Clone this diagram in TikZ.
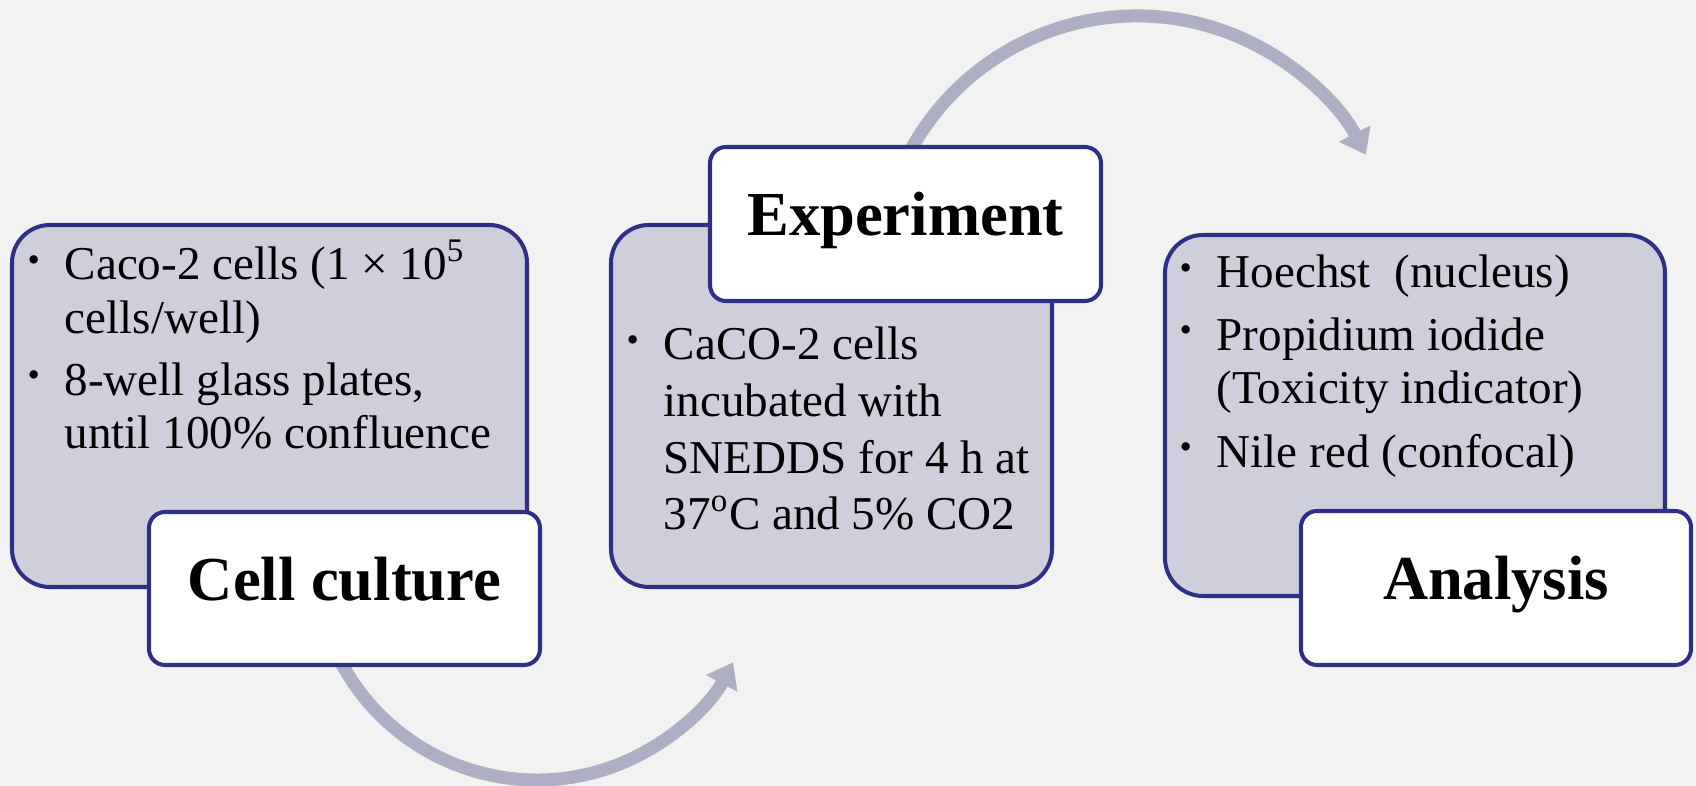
\documentclass[tikz,border=0pt]{standalone}
\usepackage{fontspec}
\setmainfont{Liberation Serif}
\usetikzlibrary{arrows.meta}
\definecolor{bgGrey}{HTML}{F2F2F2}
\definecolor{panelFill}{HTML}{CFCFDC}
\definecolor{panelLine}{HTML}{2E3085}
\definecolor{flowGrey}{HTML}{AEAEC5}
\newcommand\bul{\raisebox{0.18em}{\fontsize{10pt}{10pt}\selectfont\textbullet}}
\begin{document}
\begin{tikzpicture}[
  panel/.style={draw=panelLine, fill=panelFill, line width=1.15pt, rounded corners=0.38cm, inner sep=0pt},
  head/.style={draw=panelLine, fill=white, line width=1.15pt, rounded corners=0.16cm, inner sep=0pt,
    font=\fontsize{17.8}{21}\selectfont\bfseries, text height=0.68em, text depth=0pt},
  items/.style={inner sep=0pt, anchor=base west, font=\fontsize{13.4}{15.1}\selectfont},
  flow/.style={draw=flowGrey, line width=3.7pt, -{Triangle[width=0.34cm, length=0.24cm]}}]
\fill[bgGrey] (0,0) rectangle (16.96,7.86);
\useasboundingbox (0,0) rectangle (16.96,7.86);
% curved arrows behind the boxes
\coordinate (lowC) at (5.37,2.28);
\coordinate (highC) at (11.37,5.12);
\coordinate (cultOut) at ([shift={(205:2.22)}]lowC);
\coordinate (expOut) at ([shift={(155:2.58)}]highC);
\draw[flow] (cultOut) arc[start angle=205, end angle=332, radius=2.22];
\draw[flow] (expOut) arc[start angle=155, end angle=27.5, radius=2.58];
% cell culture
\node[panel, minimum width=5.15cm, minimum height=3.62cm] (cult) at (2.695,3.80) {};
\node[items] (cultTxt) at ([shift={(0.17,-0.57)}]cult.north west) {%
  \begin{tabular}[t]{@{}p{0.37cm}@{}l@{}}
  \bul & Caco-2 cells (1 × 10\textsuperscript{5}\\
       & cells/well)\\[2.6pt]
  \bul & 8-well glass plates,\\
       & until 100\% confluence
  \end{tabular}};
\node[head, minimum width=3.91cm, minimum height=1.53cm] (cultLbl) at (3.445,1.975) {Cell culture};
% experiment
\node[panel, minimum width=4.41cm, minimum height=3.62cm] (exp) at (8.315,3.80) {};
\node[head, minimum width=3.91cm, minimum height=1.54cm] (expLbl) at (9.055,5.62) {Experiment};
\node[items, font=\fontsize{13.4}{16.1}\selectfont] (expTxt) at ([shift={(0.17,-1.37)}]exp.north west) {%
  \begin{tabular}[t]{@{}p{0.37cm}@{}l@{}}
  \bul & CaCO-2 cells\\
       & incubated with\\
       & SNEDDS for 4 h at\\
       & 37\textsuperscript{o}C and 5\% CO2
  \end{tabular}};
% analysis
\node[panel, minimum width=5.00cm, minimum height=3.61cm] (ana) at (14.15,3.705) {};
\node[items] (anaTxt) at ([shift={(0.16,-0.55)}]ana.north west) {%
  \begin{tabular}[t]{@{}p{0.37cm}@{}l@{}}
  \bul & Hoechst\ \ (nucleus)\\[2.6pt]
  \bul & Propidium iodide\\
       & (Toxicity indicator)\\[3.1pt]
  \bul & Nile red (confocal)
  \end{tabular}};
\node[head, minimum width=3.90cm, minimum height=1.54cm] (anaLbl) at (14.96,1.98) {Analysis};
\end{tikzpicture}
\end{document}
